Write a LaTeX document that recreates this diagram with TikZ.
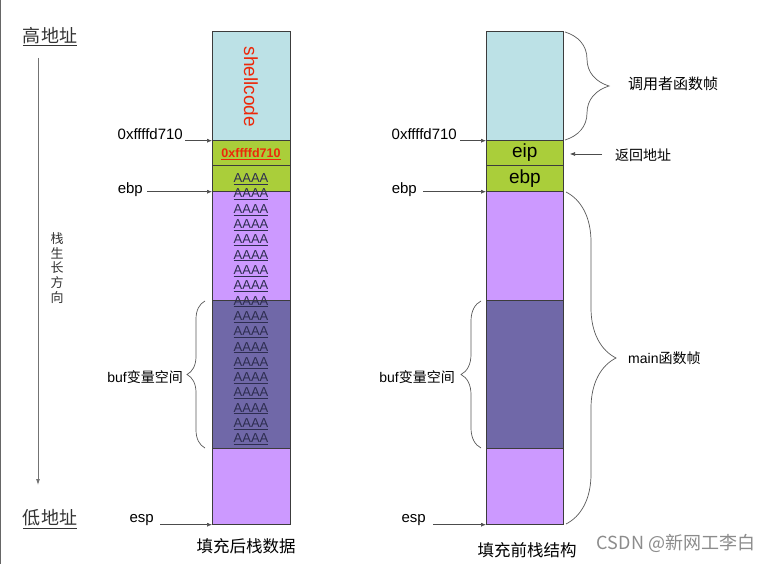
\documentclass[tikz,border=0pt]{standalone}
\usepackage{fontspec}
\setmainfont{Liberation Sans}
\newfontfamily\cjk{Noto Sans CJK SC}
\usetikzlibrary{decorations.pathreplacing,arrows.meta}
\definecolor{cyanc}{RGB}{188,225,230}
\definecolor{greenc}{RGB}{170,206,58}
\definecolor{lpurp}{RGB}{204,153,255}
\definecolor{dpurp}{RGB}{112,104,168}
\definecolor{edgec}{RGB}{60,60,60}
\definecolor{redc}{RGB}{236,40,10}
\definecolor{atext}{RGB}{45,45,80}
\definecolor{bracec}{RGB}{90,90,90}
\begin{document}
\begin{tikzpicture}[x=1pt,y=-1pt,
  cell/.style={draw=edgec,line width=0.7pt,inner sep=0pt,anchor=north west,minimum width=78pt},
  lbl/.style={inner sep=0pt,font=\fontsize{15}{15}\selectfont},
  cjklbl/.style={inner sep=0pt,font=\cjk\fontsize{14}{14}\selectfont},
  arr/.style={draw=black!70,line width=0.6pt,-{Latex[length=5pt,width=4pt]}},
  brc/.style={draw=bracec,line width=0.7pt,decorate},
  atxt/.style={inner sep=0pt,anchor=base,text=atext,font=\fontsize{13}{13}\selectfont}]
\useasboundingbox (0,0) rectangle (776,564);
\fill[white] (0,0) rectangle (776,564);
\draw[black!60,line width=1pt] (0.5,0) -- (0.5,564);

% ---------- left stack ----------
\node[cell,fill=cyanc,minimum height=109pt] (L1) at (212,31) {};
\node[cell,fill=greenc,minimum height=25pt] (L2) at (212,140) {};
\node[cell,fill=greenc,minimum height=26pt] (L3) at (212,165) {};
\node[cell,fill=lpurp,minimum height=109pt] (L4) at (212,191) {};
\node[cell,fill=dpurp,minimum height=148pt] (L5) at (212,300) {};
\node[cell,fill=lpurp,minimum height=76pt] (L6) at (212,448) {};

\node[inner sep=0pt,rotate=-90,text=redc,font=\fontsize{19}{19}\selectfont] (sc) at (251,87) {shellcode};
\node[inner sep=0pt,text=redc,font=\bfseries\fontsize{12.5}{12.5}\selectfont] (raddr) at (251,154) {\underline{0xffffd710}};
\foreach \i in {0,...,17}{
  \node[atxt] (a\i) at (251,{182.7+\i*15.3}) {\underline{AAAA}};
}

% ---------- right stack ----------
\node[cell,fill=cyanc,minimum height=109pt,minimum width=77pt] (R1) at (486,31) {};
\node[cell,fill=greenc,minimum height=25pt,minimum width=77pt] (R2) at (486,140) {};
\node[cell,fill=greenc,minimum height=26pt,minimum width=77pt] (R3) at (486,165) {};
\node[cell,fill=lpurp,minimum height=109pt,minimum width=77pt] (R4) at (486,191) {};
\node[cell,fill=dpurp,minimum height=148pt,minimum width=77pt] (R5) at (486,300) {};
\node[cell,fill=lpurp,minimum height=76pt,minimum width=77pt] (R6) at (486,448) {};
\node[inner sep=0pt,font=\fontsize{19}{19}\selectfont] (eip) at (R2.center) {eip};
\node[inner sep=0pt,font=\fontsize{19}{19}\selectfont] (ebpc) at (R3.center) {ebp};

% ---------- left side labels ----------
\node[inner sep=0pt,font=\cjk\fontsize{18}{18}\selectfont,text=black!80] (hi) at (50,37) {\underline{高地址}};
\node[inner sep=0pt,font=\cjk\fontsize{18}{18}\selectfont,text=black!80] (lo) at (50,519) {\underline{低地址}};
\coordinate (vtop) at (38,58);
\coordinate (vbot) at (38,485);
\draw[draw=black!55,line width=0.8pt,-{Latex[length=6pt,width=4pt]}] (vtop) -- (vbot);
\node[inner sep=0pt,align=center,font=\cjk\fontsize{13}{14.8}\selectfont,text=black!80] (grow) at (57,268) {栈\\生\\长\\方\\向};

\node[lbl,anchor=east] (la1) at (183,134) {0xffffd710};
\draw[arr] ([xshift=2pt]la1.east |- L1.south west) -- (L1.south west);
\node[lbl,anchor=east] (la2) at (143,190) {ebp};
\draw[arr] ([xshift=4pt]la2.east |- L3.south west) -- (L3.south west);
\node[lbl,anchor=east] (la3) at (154,520) {esp};
\draw[arr] ([xshift=6pt]la3.east |- L6.south west) -- (L6.south west);
\node[cjklbl,anchor=east] (lbuf) at (183,377) {\fontspec{Liberation Sans}buf\cjk 变量空间};
\draw[brc,decoration={brace,amplitude=18pt}] (205,448) -- (205,301);
\node[inner sep=0pt,font=\cjk\fontsize{16.5}{16.5}\selectfont] (cap1) at (246,546) {填充后栈数据};

% ---------- right side labels ----------
\node[lbl,anchor=east] (ra1) at (457,134) {0xffffd710};
\draw[arr] ([xshift=3pt]ra1.east |- R1.south west) -- (R1.south west);
\node[lbl,anchor=east] (ra2) at (417,190) {ebp};
\draw[arr] ([xshift=6pt]ra2.east |- R3.south west) -- (R3.south west);
\node[lbl,anchor=east] (ra3) at (426,520) {esp};
\draw[arr] ([xshift=7pt]ra3.east |- R6.south west) -- (R6.south west);
\node[cjklbl,anchor=east] (rbuf) at (455,377) {\fontspec{Liberation Sans}buf\cjk 变量空间};
\draw[brc,decoration={brace,amplitude=20pt}] (481,448) -- (481,301);
\node[inner sep=0pt,font=\cjk\fontsize{16.5}{16.5}\selectfont] (cap2) at (527,550) {填充前栈结构};

\draw[brc,decoration={brace,amplitude=44pt}] (565,32) -- (565,140);
\node[cjklbl,anchor=west,font=\cjk\fontsize{15}{15}\selectfont] (caller) at (628,84) {调用者函数帧};
\node[cjklbl,anchor=west] (ret) at (615,155) {返回地址};
\coordinate (retpt) at (570,154);
\draw[arr] ([xshift=-13pt]ret.west |- retpt) -- (retpt);
\draw[brc,decoration={brace,amplitude=50pt}] (566,192) -- (566,524);
\node[cjklbl,anchor=west] (mainf) at (628,358) {\fontspec{Liberation Sans}main\cjk 函数帧};

\node[inner sep=0pt,font=\cjk\fontsize{18}{18}\selectfont,text=black!45] (wm) at (676,543) {CSDN @新网工李白};
\end{tikzpicture}
\end{document}
